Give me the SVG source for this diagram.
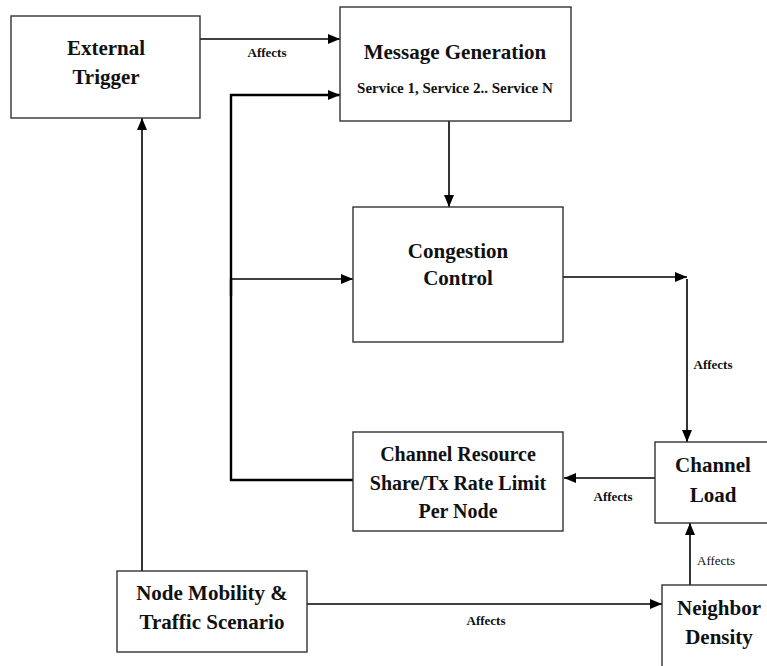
<svg xmlns="http://www.w3.org/2000/svg" width="767" height="666" viewBox="0 0 767 666">
  <defs>
    <marker id="arr" markerUnits="userSpaceOnUse" markerWidth="13" markerHeight="11" refX="12" refY="5" orient="auto">
      <path d="M0,0 L12,5 L0,10 z" fill="#000"/>
    </marker>
    <style>
      .box { fill: #fff; stroke: #333; stroke-width: 1.4; }
      .t { font-family: "Liberation Serif", "Times New Roman", serif; font-weight: bold; font-size: 21px; fill: #111; text-anchor: middle; }
      .t20 { font-size: 20px; }
      .sub { font-size: 15px; }
      .lbl { font-family: "Liberation Serif", "Times New Roman", serif; font-weight: bold; font-size: 13px; fill: #111; text-anchor: middle; }
      .lblr { font-family: "Liberation Serif", "Times New Roman", serif; font-size: 13px; fill: #111; }
      .c { fill: none; stroke: #000; stroke-width: 1.6; }
      .thick { stroke-width: 2.4; }
    </style>
  </defs>
  <rect width="767" height="666" fill="#fff"/>

  <g id="connectors">
    <line class="c" x1="200" y1="39" x2="340" y2="39" marker-end="url(#arr)"/>
    <polyline class="c thick" points="353,480 231,480 231,95 340,95" marker-end="url(#arr)"/>
    <line class="c thick" x1="231" y1="279" x2="231" y2="296"/>
    <line class="c" x1="231" y1="279" x2="353" y2="279" marker-end="url(#arr)"/>
    <line class="c" x1="449" y1="121" x2="449" y2="207" marker-end="url(#arr)"/>
    <line class="c" x1="563" y1="277" x2="687" y2="277" marker-end="url(#arr)"/>
    <line class="c" x1="687" y1="279" x2="687" y2="442" marker-end="url(#arr)"/>
    <line class="c" x1="655" y1="478" x2="564" y2="478" marker-end="url(#arr)"/>
    <line class="c" x1="142" y1="571" x2="142" y2="118" marker-end="url(#arr)"/>
    <line class="c" x1="307" y1="604" x2="662" y2="604" marker-end="url(#arr)"/>
    <line class="c" x1="690" y1="585" x2="690" y2="523" marker-end="url(#arr)"/>
    <text class="lbl" x="267" y="57">Affects</text>
    <text class="lbl" x="713" y="369">Affects</text>
    <text class="lbl" x="613" y="501">Affects</text>
    <text class="lbl" x="486" y="625">Affects</text>
    <text class="lblr" x="697" y="565">Affects</text>
  </g>

  <g id="external-trigger">
    <rect class="box" x="11" y="16" width="189" height="102"/>
    <text class="t" x="106" y="55">External</text>
    <text class="t" x="106" y="84">Trigger</text>
  </g>

  <g id="message-generation">
    <rect class="box" x="340" y="7" width="231" height="114"/>
    <text class="t" x="455" y="59">Message Generation</text>
    <text class="t sub" x="455" y="93">Service 1, Service 2.. Service N</text>
  </g>

  <g id="congestion-control">
    <rect class="box" x="353" y="207" width="210" height="135"/>
    <text class="t" x="458" y="258">Congestion</text>
    <text class="t" x="458" y="285">Control</text>
  </g>

  <g id="channel-resource">
    <rect class="box" x="353" y="432" width="210" height="99"/>
    <text class="t t20" x="458" y="461">Channel Resource</text>
    <text class="t t20" x="458" y="490">Share/Tx Rate Limit</text>
    <text class="t t20" x="458" y="518">Per Node</text>
  </g>

  <g id="channel-load">
    <rect class="box" x="655" y="442" width="130" height="81"/>
    <text class="t" x="713" y="472">Channel</text>
    <text class="t" x="713" y="502">Load</text>
  </g>

  <g id="node-mobility">
    <rect class="box" x="117" y="571" width="190" height="81"/>
    <text class="t" x="212" y="600">Node Mobility &amp;</text>
    <text class="t" x="212" y="629">Traffic Scenario</text>
  </g>

  <g id="neighbor-density">
    <rect class="box" x="662" y="585" width="130" height="100"/>
    <text class="t" x="719" y="615">Neighbor</text>
    <text class="t" x="719" y="644">Density</text>
  </g>
</svg>
